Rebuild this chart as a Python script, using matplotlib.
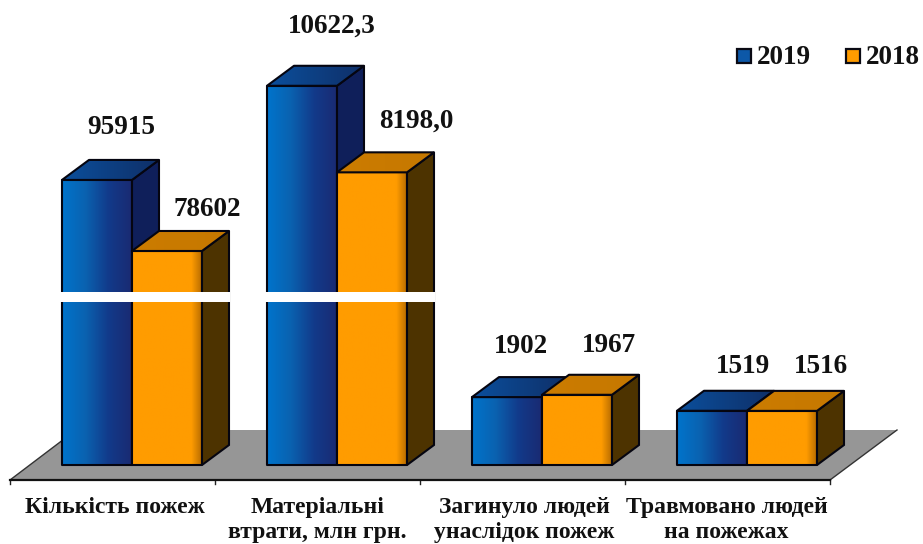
import numpy as np
import matplotlib
matplotlib.use('Agg')
import matplotlib.pyplot as plt
from matplotlib.colors import LinearSegmentedColormap
from matplotlib.patches import Polygon, Rectangle

plt.rcParams['font.family'] = ['Liberation Serif', 'DejaVu Serif']

categories = ['Кількість пожеж', 'Матеріальні\nвтрати, млн грн.',
              'Загинуло людей\nунаслідок пожеж', 'Травмовано людей\nна пожежах']
labels_2019 = ['95915', '10622,3', '1902', '1519']
labels_2018 = ['78602', '8198,0', '1967', '1516']
# first group is cut by the white break, so its drawn height is not the label
heights_2019 = [7985, 10622.3, 1902, 1519]
heights_2018 = [5995, 8198.0, 1967, 1516]

# scale of the picture: one group is 205 px, one value unit 0.0357 px
PX_X = 205.0
PX_Y = 0.0357
W = 70 / PX_X
OFF = 52 / PX_X
DX = 27 / PX_X
DY = 20 / PX_Y

blue_front = LinearSegmentedColormap.from_list('bf', ['#0074cc', '#0a62b0', '#123a8a', '#1a2a72'])
blue_top = LinearSegmentedColormap.from_list('bt', ['#0b4f9c', '#0f2f68'])
orange_front = LinearSegmentedColormap.from_list('of', [(0, '#ff9c00'), (0.85, '#ff9c00'), (1, '#b86c00')])
orange_top = LinearSegmentedColormap.from_list('ot', ['#cc7c00', '#c67800'])
grad = np.linspace(0, 1, 256).reshape(1, -1)


def gradient_poly(ax, pts, cmap, zorder):
    # gradient image clipped to a polygon
    pts = np.array(pts)
    im = ax.imshow(grad, cmap=cmap, aspect='auto', zorder=zorder, interpolation='bilinear',
                   extent=(pts[:, 0].min(), pts[:, 0].max(), pts[:, 1].min(), pts[:, 1].max()))
    p = Polygon(pts, closed=True, fc='none', ec='#050510', lw=1.5, zorder=zorder + 0.1, joinstyle='round')
    ax.add_patch(p)
    im.set_clip_path(p)


def bar3d(ax, x, h, front, top, side, z):
    gradient_poly(ax, [(x, 0), (x + W, 0), (x + W, h), (x, h)], front, z)
    ax.add_patch(Polygon([(x + W, 0), (x + W + DX, DY), (x + W + DX, h + DY), (x + W, h)],
                         closed=True, fc=side, ec='#050510', lw=1.5, zorder=z + 0.2))
    gradient_poly(ax, [(x, h), (x + W, h), (x + W + DX, h + DY), (x + DX, h + DY)], top, z + 0.3)


fig = plt.figure(figsize=(9.23, 5.44), dpi=100)
ax = fig.add_axes([0, 0, 1, 1])
ax.axis('off')

# floor
floor_front = -15 / PX_Y
floor_back = 35 / PX_Y
ax.add_patch(Polygon([(0, floor_front), (4, floor_front), (4 + 67 / PX_X, floor_back), (66 / PX_X, floor_back)],
                     closed=True, fc='#969696', ec='none', zorder=1))
ax.plot([66 / PX_X, 0, 4, 4 + 67 / PX_X], [floor_back, floor_front, floor_front, floor_back],
        color='#333333', lw=1.0, zorder=1.5)
ax.plot([0, 4], [floor_front, floor_front], color='#111111', lw=1.6, zorder=1.6)
for i in range(5):
    ax.plot([i, i], [floor_front, floor_front - 4 / PX_Y], color='#222222', lw=1.0, zorder=1.5)

label_shift = [2, 0, 2, -1]
for i in range(len(categories)):
    x1 = i + OFF
    x2 = x1 + W
    bar3d(ax, x1, heights_2019[i], blue_front, blue_top, '#0f1f5a', 2 + i)
    bar3d(ax, x2, heights_2018[i], orange_front, orange_top, '#4d3300', 2.5 + i)
    ax.text(i + 0.5 + label_shift[i] / PX_X, floor_front - 17 / PX_Y, categories[i], ha='center', va='top',
            fontsize=17, fontweight='bold', color='#111111', linespacing=1.27, zorder=9)

# white break across the first two groups
for i in range(2):
    ax.add_patch(Rectangle((i + 49 / PX_X, 163 / PX_Y), 171 / PX_X, 10 / PX_Y, fc='white', ec='none', zorder=8))

# value labels: offsets from bar centre, px
off_x_2019 = [24, 30, 14, 31]
off_x_2018 = [40, 44, 32, 39]
off_y_2019 = [52, 60, 51, 44]
off_y_2018 = [41, 51, 49, 44]
for i in range(len(categories)):
    ax.text(i + OFF + W / 2 + off_x_2019[i] / PX_X, heights_2019[i] + off_y_2019[i] / PX_Y, labels_2019[i],
            ha='center', va='center', fontsize=19.5, fontweight='bold', color='#111111', zorder=9)
    ax.text(i + OFF + 1.5 * W + off_x_2018[i] / PX_X, heights_2018[i] + off_y_2018[i] / PX_Y, labels_2018[i],
            ha='center', va='center', fontsize=19.5, fontweight='bold', color='#111111', zorder=9)

# legend
for px, col, name in [(737, '#0d58a8', '2019'), (846, '#ff9c00', '2018')]:
    fig.patches.append(Rectangle((px / 923, 1 - 63 / 544), 14 / 923, 14 / 544, transform=fig.transFigure,
                                 fc=col, ec='#0a0a14', lw=1.6))
    fig.text((px + 20) / 923, 1 - 57 / 544, name, ha='left', va='center',
             fontsize=19.5, fontweight='bold', color='#111111')

ax.set_xlim(-10 / PX_X, 913 / PX_X)
ax.set_ylim(-79 / PX_Y, 465 / PX_Y)

fig.savefig('out.png', dpi=100)
